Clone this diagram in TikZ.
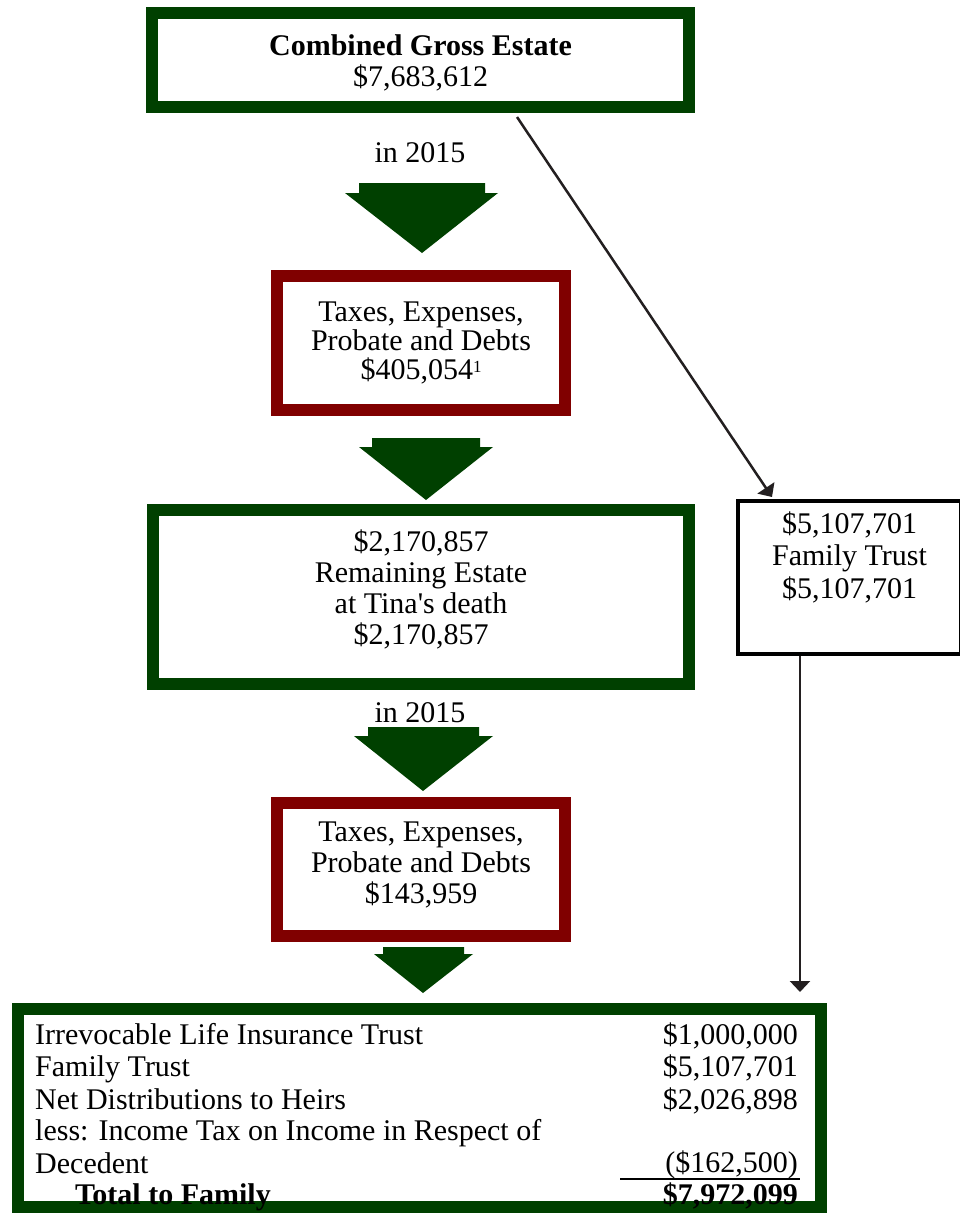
\documentclass[tikz,border=0pt]{standalone}
\usepackage{fontspec}
\setmainfont{Liberation Serif}[Ligatures=TeXOff]
\usetikzlibrary{arrows.meta,positioning}
\definecolor{estgreen}{RGB}{0,64,0}
\definecolor{estred}{RGB}{128,0,0}
\definecolor{linegray}{RGB}{35,31,32}

\begin{document}
\begin{tikzpicture}[x=1pt, y=-1pt, font=\fontsize{30}{31}\selectfont,
      gbox/.style={rectangle, draw=estgreen, line width=12pt, align=center, inner sep=0pt},
      rbox/.style={rectangle, draw=estred, line width=12pt, align=center, inner sep=0pt},
      tbox/.style={rectangle, draw=black, line width=4pt, align=center, inner sep=0pt},
      blockarrow/.style={fill=estgreen},
      rowtxt/.style={inner sep=0pt},
      conn/.style={draw=linegray, line width=2.5pt, -{Triangle[width=20pt,length=11pt]}}]
    \useasboundingbox (0,0) rectangle (959,1216);
    % boxes down the middle
    \node[gbox, minimum width=537pt, minimum height=94pt, text height=57pt] (gross) at (420.5,60)
      {\textbf{Combined Gross Estate}\\\$7,683,612};
    \node (yr1) at (420,153) {in 2015};
    \node[rbox, minimum width=288pt, minimum height=134pt, text depth=5pt,
          font=\fontsize{30}{29}\selectfont] (tax1) at (421,343)
      {Taxes, Expenses,\\Probate and Debts\\\$405,054\raisebox{7pt}{\fontsize{17}{17}\selectfont 1}};
    \node[gbox, minimum width=536pt, minimum height=174pt, text depth=19pt] (remain) at (421,597)
      {\$2,170,857\\Remaining Estate\\at Tina's death\\\$2,170,857};
    \node (yr2) at (420,713) {in 2015};
    \node[rbox, minimum width=288pt, minimum height=133pt, text depth=14pt] (tax2) at (421,869.5)
      {Taxes, Expenses,\\Probate and Debts\\\$143,959};
    \node[tbox, minimum width=223pt, minimum height=153pt, text depth=45pt,
          font=\fontsize{30}{32.5}\selectfont] (famtrust) at (849.5,577.5)
      {\$5,107,701\\Family Trust\\\$5,107,701};
    \node[gbox, minimum width=803pt, minimum height=198pt] (total) at (419.5,1108) {};
    % block arrows
    \fill[blockarrow] (359,183) -- (485,183) -- (485,193) -- (498,193) -- (422,253) -- (345,193) -- (359,193) -- cycle;
    \fill[blockarrow] (372,438) -- (480,438) -- (480,447) -- (493,447) -- (426,500) -- (359,447) -- (372,447) -- cycle;
    \fill[blockarrow] (368,727) -- (479,727) -- (479,736) -- (493,736) -- (423,791) -- (354,736) -- (368,736) -- cycle;
    \fill[blockarrow] (383,947) -- (464,947) -- (464,954) -- (473,954) -- (423,993) -- (374,954) -- (383,954) -- cycle;
    % connectors
    \draw[conn] ([xshift=96.5pt, yshift=-4pt]gross.south) -- ([xshift=-77.5pt, yshift=2pt]famtrust.north);
    \draw[conn, shorten >=11pt] ([xshift=-49.5pt]famtrust.south) -- ([xshift=-49.5pt]famtrust.south |- total.north);
    % summary rows
    \node[rowtxt, anchor=base west] (item1) at (35,1044) {Irrevocable Life Insurance Trust};
    \node[rowtxt, anchor=base west] (item2) at (35,1076) {Family Trust};
    \node[rowtxt, anchor=base west] (item3) at (35,1109) {Net Distributions to Heirs};
    \node[rowtxt, anchor=base west] (item4) at (35,1140) {less: Income Tax on Income in Respect of};
    \node[rowtxt, anchor=base west] (item5) at (35,1173) {Decedent};
    \node[rowtxt, anchor=base west] (item6) at (75,1204) {\textbf{Total to Family}};
    \node[rowtxt, anchor=base east] (amt1) at (798,1044) {\$1,000,000};
    \node[rowtxt, anchor=base east] (amt2) at (798,1076) {\$5,107,701};
    \node[rowtxt, anchor=base east] (amt3) at (798,1109) {\$2,026,898};
    \node[rowtxt, anchor=base east] (amt5) at (798,1172) {(\$162,500)};
    \node[rowtxt, anchor=base east] (amt6) at (798,1204) {\textbf{\$7,972,099}};
    \draw[line width=2pt] (620,1179) -- (800,1179);
  \end{tikzpicture}
\end{document}
